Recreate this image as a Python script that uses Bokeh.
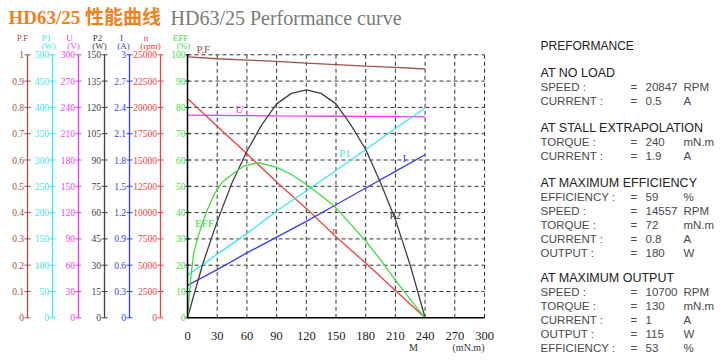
from bokeh.plotting import figure
from bokeh.models import Range1d, Label
from bokeh.core.properties import value
from bokeh.embed import file_html
from bokeh.resources import INLINE

# ---------------- data ----------------
torque = [0, 30, 60, 90, 120, 150, 180, 210, 240]
power_factor = [0.992, 0.985, 0.980, 0.975, 0.968, 0.963, 0.957, 0.952, 0.946]
input_power = [81, 121, 160, 203, 241, 280, 320, 360, 399]
voltage = [231.2, 230.9, 230.6, 230.3, 230.1, 229.9, 229.7, 229.5, 229.3]
current = [0.37, 0.55, 0.74, 0.92, 1.10, 1.29, 1.48, 1.67, 1.86]
speed = [20840, 18200, 15600, 12900, 10400, 7700, 5200, 2600, 0]

torque_p2 = [0, 15, 30, 45, 60, 75, 90, 105, 120, 135, 150, 165, 180, 195, 210, 225, 240]
output_power = [0, 30, 55, 77, 95, 110, 122, 128, 130, 128, 122, 110, 96, 77, 56, 30, 0]

torque_eff = [0, 3, 6, 10, 15, 20, 27, 35, 45, 57, 72, 90, 105, 120, 135, 150, 165, 180, 195, 210, 225, 240]
efficiency = [0, 14, 24, 30, 36, 41, 47, 51.5, 54.5, 57.7, 59, 57.2, 54.5, 50.7, 46.5, 41.8, 35.5, 29.2, 22, 14.3, 7, 0]

x_ticks = [0, 30, 60, 90, 120, 150, 180, 210, 240, 270, 300]
eff_ticks = [0, 10, 20, 30, 40, 50, 60, 70, 80, 90, 100]
pf_ticks = [0, 0.1, 0.2, 0.3, 0.4, 0.5, 0.6, 0.7, 0.8, 0.9, 1]
p1_ticks = [0, 50, 100, 150, 200, 250, 300, 350, 400, 450, 500]
u_ticks = [0, 30, 60, 90, 120, 150, 180, 210, 240, 270, 300]
p2_ticks = [0, 15, 30, 45, 60, 75, 90, 105, 120, 135, 150]
i_ticks = [0, 0.3, 0.6, 0.9, 1.2, 1.5, 1.8, 2.1, 2.4, 2.7, 3]
n_ticks = [0, 2500, 5000, 7500, 10000, 12500, 15000, 17500, 20000, 22500, 25000]

axis_names = ["P.F", "P1", "U", "P2", "I", "n", "EFF"]
axis_units = ["", "(W)", "(V)", "(W)", "(A)", "(rpm)", "(%)"]

title_cn = "HD63/25 性能曲线"
title_en = "HD63/25 Performance curve"

perf_title = "PREFORMANCE"
no_load = [("SPEED :", "20847", "RPM"), ("CURRENT :", "0.5", "A")]
stall = [("TORQUE :", "240", "mN.m"), ("CURRENT :", "1.9", "A")]
max_eff = [("EFFICIENCY :", "59", "%"), ("SPEED :", "14557", "RPM"), ("TORQUE :", "72", "mN.m"),
           ("CURRENT :", "0.8", "A"), ("OUTPUT :", "180", "W")]
max_out = [("SPEED :", "10700", "RPM"), ("TORQUE :", "130", "mN.m"), ("CURRENT :", "1", "A"),
           ("OUTPUT :", "115", "W"), ("EFFICIENCY :", "53", "%")]
sections = [("AT NO LOAD", no_load), ("AT STALL EXTRAPOLATION", stall),
            ("AT MAXIMUM EFFICIENCY", max_eff), ("AT MAXIMUM OUTPUT", max_out)]

# ---------------- layout / styles ----------------
C_PF = "#a0504c"
C_P1 = "#3ae8ee"
C_U = "#f03cf0"
C_P2 = "#404040"
C_I = "#3c3cf0"
C_N = "#f04040"
C_EFF = "#40dc40"
SERIF = "Liberation Serif"
SANS = "Liberation Sans"

W, H = 722, 355
PX0, PX300, PY0, PY100 = 187, 484, 317.3, 54.3   # pixel frame of the chart grid
kx = (PX300 - PX0) / x_ticks[-1]
ky = (PY0 - PY100) / eff_ticks[-1]
y_lo, y_hi = -(H - PY0) / ky, PY0 / ky

p = figure(width=W, height=H, title=None, output_backend="svg", toolbar_location=None,
           x_range=Range1d(-PX0 / kx, (W - PX0) / kx), y_range=Range1d(y_lo, y_hi),
           x_axis_location=None, y_axis_location=None, min_border=0)
p.outline_line_color = None
for g in p.grid:
    g.visible = False

series_axes = [("pf", pf_ticks, C_PF, 27), ("p1", p1_ticks, C_P1, 52), ("u", u_ticks, C_U, 78),
               ("p2", p2_ticks, C_P2, 104), ("i", i_ticks, C_I, 129), ("n", n_ticks, C_N, 160)]
p.extra_y_ranges = {key: Range1d(y_lo * t[-1] / eff_ticks[-1], y_hi * t[-1] / eff_ticks[-1])
                    for key, t, _, _ in series_axes}

# ---------------- grid ----------------
y_bot, y_top = eff_ticks[0], eff_ticks[-1]
x_left, x_right = x_ticks[0], x_ticks[-1]
p.multi_line(xs=[[t, t] for t in x_ticks[1:]], ys=[[y_bot, y_top] for _ in x_ticks[1:]],
             line_color="#333333", line_dash="4 3", line_width=1)
p.multi_line(xs=[[x_left, x_right] for _ in eff_ticks[1:]], ys=[[e, e] for e in eff_ticks[1:]],
             line_color="#333333", line_dash="4 3", line_width=1)

# ---------------- curves ----------------
LW = 1.3
p.line(torque, power_factor, line_color=C_PF, line_width=LW, y_range_name="pf")
p.line(torque, voltage, line_color=C_U, line_width=LW, y_range_name="u")
p.line(torque, speed, line_color=C_N, line_width=LW, y_range_name="n")
p.line(torque, input_power, line_color=C_P1, line_width=LW, y_range_name="p1")
p.line(torque, current, line_color=C_I, line_width=LW, y_range_name="i")
p.line(torque_p2, output_power, line_color=C_P2, line_width=LW, y_range_name="p2")
p.line(torque_eff, efficiency, line_color=C_EFF, line_width=LW)

# ---------------- axes ----------------
TICK_FONT = "9.5px"
for key, ticks, col, px in series_axes:
    at = (px - PX0) / kx
    p.line([at, at], [ticks[0], ticks[-1]], line_color=col, line_width=1.3, y_range_name=key)
    p.scatter([at] * len(ticks), ticks, marker="dash", size=6, line_color=col, line_width=1,
              y_range_name=key)
    p.text([at] * len(ticks), ticks, text=[f"{v:g}" for v in ticks], x_offset=-3.5,
           text_align="right", text_baseline="middle", text_font=value(SERIF),
           text_font_size=TICK_FONT, text_color=col, y_range_name=key)

# EFF axis = frame left edge
p.line([x_left, x_left], [y_bot, y_top], line_color="black", line_width=1.5)
p.scatter([x_left] * len(eff_ticks), eff_ticks, marker="dash", size=4, line_color="black")
p.text([x_left] * len(eff_ticks), eff_ticks, text=[f"{v:g}" for v in eff_ticks], x_offset=-2,
       text_align="right", text_baseline="middle", text_font=value(SERIF),
       text_font_size=TICK_FONT, text_color=C_EFF)

# x axis
p.line([x_left, x_right], [y_bot, y_bot], line_color="black", line_width=1.5)
xlab_y = -(335 - PY0) / ky
p.text(x_ticks, [xlab_y] * len(x_ticks), text=[f"{v:g}" for v in x_ticks], text_align="center",
       text_baseline="middle", text_font=value(SERIF), text_font_size="12.5px", text_color="#222222")

# ---------------- text helpers ----------------
def put(txt, px, py, color, font, size, align="left", style="normal"):
    p.add_layout(Label(x=px, y=H - py, x_units="screen", y_units="screen", text=txt,
                       text_color=color, text_font=font, text_font_size=size,
                       text_align=align, text_baseline="middle", text_font_style=style))

# curve labels (data coordinates, EFF scale)
curve_labels = [("P.F", 9, 102.3, C_PF, "left"), ("U", 52.5, 79.5, C_U, "center"),
                ("P1", 159, 62.5, C_P1, "center"), ("I", 219, 60.8, C_I, "center"),
                ("EFF", 17.2, 35.9, C_EFF, "center"), ("n", 149, 33.2, C_N, "center"),
                ("P2", 209.8, 38.9, C_P2, "center")]
for txt, x, y, col, al in curve_labels:
    p.add_layout(Label(x=x, y=y, text=txt, text_color=col, text_font=SERIF,
                       text_font_size="11px", text_align=al, text_baseline="middle"))

# axis headers
name_x = [22, 46, 69, 97, 121, 145.5, 180]
unit_x = [22, 48, 73, 99, 123, 150, 183]
head_cols = [C_PF, C_P1, C_U, C_P2, C_I, C_N, C_EFF]
for nm, un, nx, ux, col in zip(axis_names, axis_units, name_x, unit_x, head_cols):
    put(nm, nx, 37, col, SERIF, "9px", "center")
    if un:
        put(un, ux, 45.5, col, SERIF, "9px", "center")

# x axis caption
put("M", 413, 347, "#333333", SERIF, "10px", "center")
put("(mN.m)", 468, 347, "#333333", SERIF, "10px", "center")

# title
put(title_cn, 8, 17, "#f0821e", "'Liberation Serif', 'Noto Sans CJK SC'", "19px", style="bold")
put(title_en, 170, 17, "#7a7a7a", SERIF, "20px")

# performance panel
col_label, col_eq, col_val, col_unit = 540, 630, 645, 683
put(perf_title, col_label, 45, "#222222", SANS, "12px")
row_y = 45
gaps = [27, 27, 27, 25]
for (head, rows), gap in zip(sections, gaps):
    row_y += gap
    put(head, col_label, row_y, "#222222", SANS, "12.5px")
    for lab, val, unit in rows:
        row_y += 14
        for txt, cx in [(lab, col_label), ("=", col_eq), (val, col_val), (unit, col_unit)]:
            put(txt, cx, row_y, "#4a4a4a", SANS, "11.5px")

open("out.html", "w").write(file_html(p, INLINE))
